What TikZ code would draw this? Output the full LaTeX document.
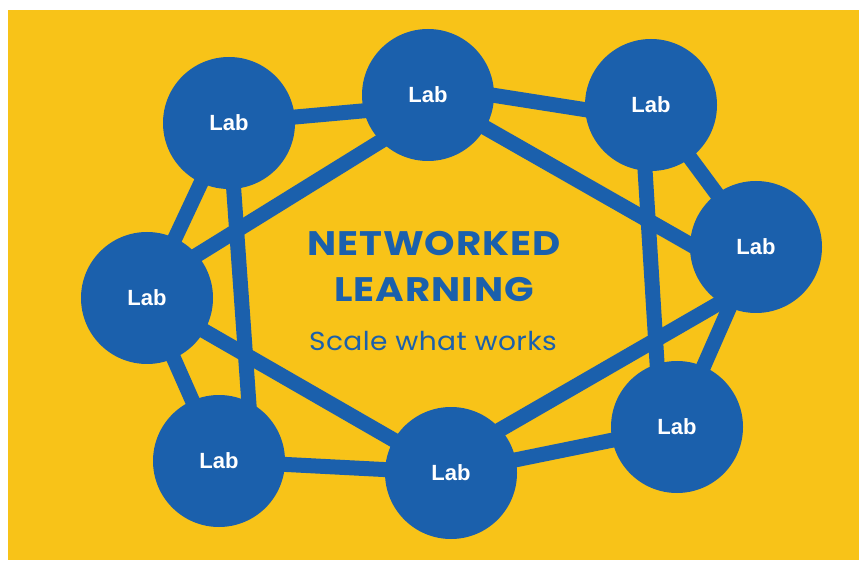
\documentclass[tikz,border=0pt]{standalone}
\usepackage{fontspec}
\setmainfont{Liberation Sans}
\newfontfamily\titlefont[FakeStretch=1.14,LetterSpace=3]{Poppins}
\newfontfamily\mottofont[FakeStretch=1.08,LetterSpace=1.5]{Poppins}
\usetikzlibrary{backgrounds,calc}
\definecolor{labblue}{HTML}{1B60AC}
\definecolor{labyellow}{HTML}{F8C318}
\pgfdeclarelayer{edges}
\pgfsetlayers{background,edges,main}

\begin{document}
\begin{tikzpicture}[x=1pt,y=1pt]
    \tikzstyle{lab}=[circle, fill=labblue, minimum size=132pt, inner sep=0pt,
                     text=white, font=\fontsize{22}{26}\selectfont\bfseries]
    \tikzstyle{link}=[draw=labblue, line width=15pt]
    \begin{pgfonlayer}{background}
        \fill[white] (0,0) rectangle (859,560);
        \fill[labyellow] (8,0) rectangle (859,550);
    \end{pgfonlayer}
    \node[lab] (topleft) at (229,437) {Lab};
    \node[lab] (top) at (428,465) {Lab};
    \node[lab] (topright) at (651,455) {Lab};
    \node[lab] (right) at (756,313) {Lab};
    \node[lab] (botright) at (677,133) {Lab};
    \node[lab] (bot) at (451,87) {Lab};
    \node[lab] (botleft) at (219,99) {Lab};
    \node[lab] (left) at (147,262) {Lab};
    \coordinate (hub) at ($(right)+(0,-35)$);
    \begin{pgfonlayer}{edges}
        \draw[link] (topleft.center) -- ($(top)+(0,-10)$);
        \draw[link] ($(top)+(0,10)$) -- ($(topright)+(0,-15)$);
        \draw[link] (topright.center) -- (right.center) -- (botright.center)
            -- (bot.center) -- (botleft.center) -- (left.center)
            -- (topleft.center);
        \draw[link] (topleft.center) -- ($(botleft)+(34,0)$);
        \draw[link] ($(top)+(0,-17)$) -- ($(left)+(0,12)$);
        \draw[link] (top.center) -- (hub);
        \draw[link] ($(topright)+(-10,0)$) -- ($(botright)+(-16,0)$);
        \draw[link] (left.center) -- (bot.center);
        \draw[link] (hub) -- ($(bot)+(0,15)$);
    \end{pgfonlayer}
    \node[text=labblue, font=\titlefont\fontsize{34}{46}\selectfont\bfseries,
          align=center] (title) at (434,294) {NETWORKED\\LEARNING};
    \node[text=labblue, font=\mottofont\fontsize{26}{30}\selectfont]
        (motto) at (433,219) {Scale what works};
\end{tikzpicture}
\end{document}
